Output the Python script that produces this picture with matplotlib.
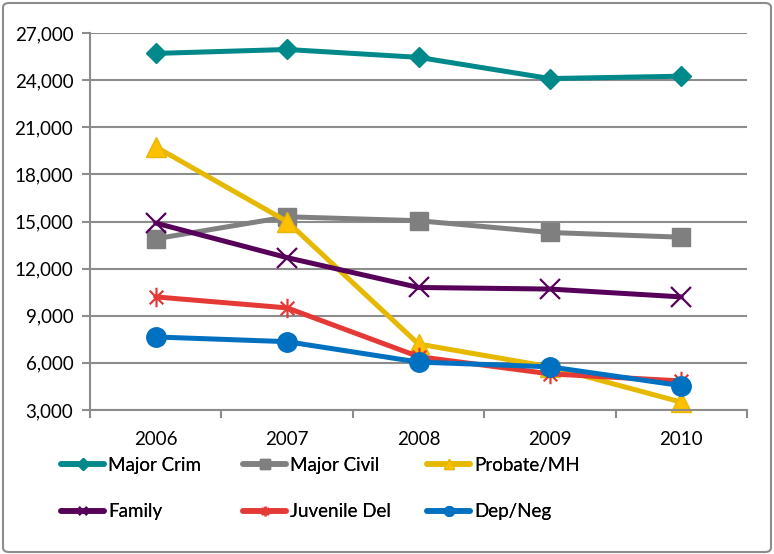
import matplotlib
matplotlib.use("Agg")
import matplotlib.pyplot as plt
from matplotlib.lines import Line2D
from matplotlib.patches import FancyBboxPatch
from matplotlib.path import Path
from matplotlib.ticker import FuncFormatter, FixedLocator

# Filings per year by case type
years = ["2006", "2007", "2008", "2009", "2010"]
major_crim = [25700, 25950, 25450, 24100, 24250]
major_civil = [13900, 15300, 15050, 14300, 14000]
probate_mh = [19750, 15000, 7200, 5750, 3500]
family = [14900, 12700, 10800, 10700, 10200]
juvenile_del = [10200, 9500, 6400, 5300, 4850]
dep_neg = [7650, 7350, 6050, 5750, 4550]

series_names = ["Major Crim", "Major Civil", "Probate/MH", "Family", "Juvenile Del", "Dep/Neg"]
series_values = [major_crim, major_civil, probate_mh, family, juvenile_del, dep_neg]

y_ticks = [3000, 6000, 9000, 12000, 15000, 18000, 21000, 24000, 27000]

# Asterisk-style marker: an X crossed by a vertical bar
star_path = Path(
    [(-0.7, -0.7), (0.7, 0.7), (-0.7, 0.7), (0.7, -0.7), (0, -1), (0, 1)],
    [Path.MOVETO, Path.LINETO, Path.MOVETO, Path.LINETO, Path.MOVETO, Path.LINETO],
)

styles = [
    dict(color="#00898A", marker="D", ms=10.5, mfc="#00898A", mec="#00898A", mew=1),
    dict(color="#808080", marker="s", ms=13.5, mfc="#7F7F7F", mec="#7F7F7F", mew=1),
    dict(color="#E6B800", marker="^", ms=14, mfc="#FFC000", mec="#E6B800", mew=1),
    dict(color="#57005A", marker="x", ms=14, mfc="none", mec="#57005A", mew=1.6),
    dict(color="#E53935", marker=star_path, ms=14, mfc="none", mec="#E53935", mew=1.6),
    dict(color="#0070C0", marker="o", ms=14, mfc="#0070C0", mec="#0070C0", mew=1),
]
legend_ms = [6, 7, 7, 6, 7, 7]

plt.rcParams["font.family"] = ["Lato", "DejaVu Sans"]

fig = plt.figure(figsize=(7.74, 5.54), dpi=100)
ax = fig.add_axes([90 / 774, 1 - 410 / 554, (747 - 90) / 774, (410 - 33) / 554])

grid_color = "#8C8C8C"
x = list(range(len(years)))
for vals, st in zip(series_values, styles):
    ax.plot(x, vals, lw=3.6, solid_capstyle="round", solid_joinstyle="round",
            clip_on=False, **st)

ax.set_xlim(-0.5, len(years) - 0.5)
ax.set_ylim(3000, 27000)
ax.set_yticks(y_ticks)
ax.yaxis.set_major_formatter(FuncFormatter(lambda v, p: f"{int(v):,}"))
ax.set_xticks(x)
ax.set_xticklabels(years)
ax.xaxis.set_minor_locator(FixedLocator([i - 0.5 for i in range(len(years) + 1)]))
ax.tick_params(axis="x", which="major", length=0, pad=15, labelsize=13.5, colors="black")
ax.tick_params(axis="x", which="minor", length=6, width=1.5, color=grid_color, direction="out")
ax.tick_params(axis="y", length=6, width=1.5, color=grid_color, direction="out",
               pad=6, labelsize=13.5, labelcolor="black")

ax.grid(axis="y", color=grid_color, lw=1.5)
ax.set_axisbelow(True)
for side in ["top", "right"]:
    ax.spines[side].set_visible(False)
for side in ["left", "bottom"]:
    ax.spines[side].set_color(grid_color)
    ax.spines[side].set_linewidth(1.5)

handles = [
    Line2D([], [], lw=4, solid_capstyle="round", **{**st, "ms": m})
    for st, m in zip(styles, legend_ms)
]

# Legend laid out in rows of three: one column legend per position
column_x = [61, 243, 427]
for col in range(3):
    idx = [col, col + 3]
    leg = fig.legend([handles[i] for i in idx], [series_names[i] for i in idx],
                     ncol=1, loc="upper left",
                     bbox_to_anchor=(column_x[col] / 774, 1 - 457 / 554), frameon=False,
                     fontsize=13.5, handlelength=2.3, handletextpad=0.2,
                     labelspacing=1.55, borderpad=0, borderaxespad=0)
    fig.add_artist(leg)

border = FancyBboxPatch((3 / 774, 2 / 554), 768 / 774, 549 / 554,
                        boxstyle="round,pad=0,rounding_size=0.008",
                        transform=fig.transFigure, fill=False,
                        edgecolor="#8C8C8C", lw=1.5)
fig.patches.append(border)

fig.savefig("out.png", dpi=100)
